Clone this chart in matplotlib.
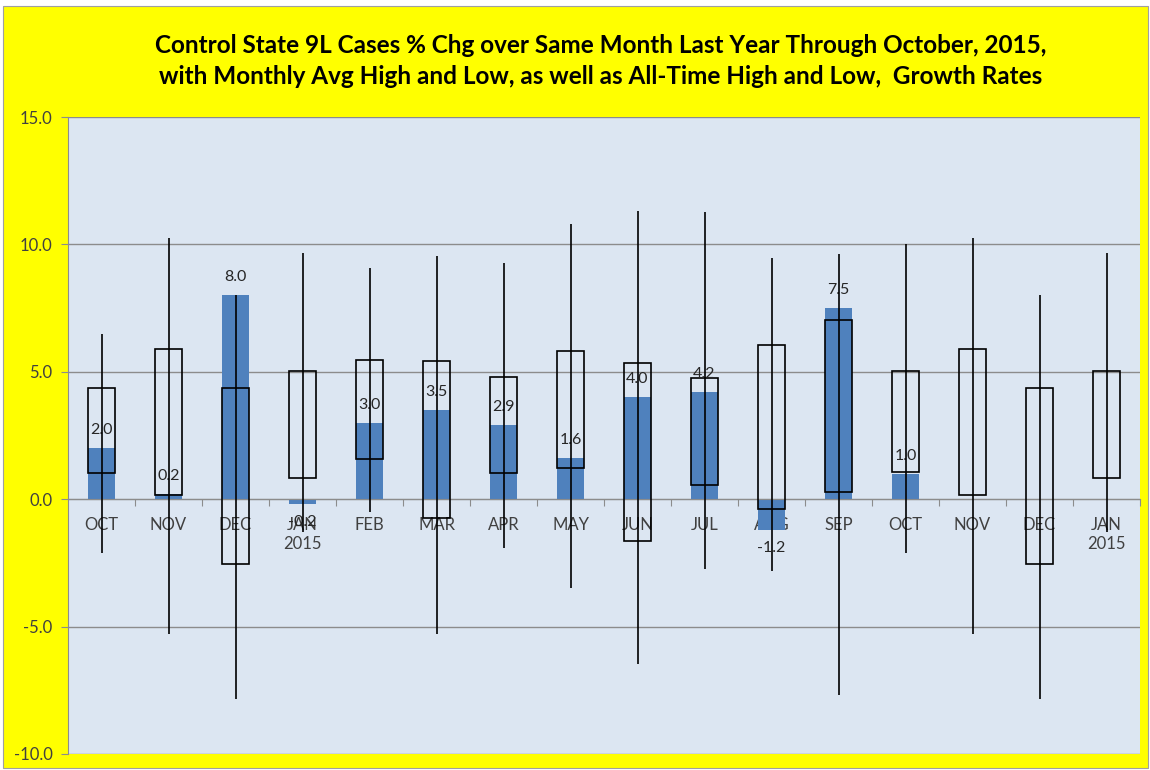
import matplotlib.pyplot as plt
from matplotlib.patches import Rectangle

months = ['OCT', 'NOV', 'DEC', 'JAN\n2015', 'FEB', 'MAR', 'APR', 'MAY',
          'JUN', 'JUL', 'AUG', 'SEP', 'OCT', 'NOV', 'DEC', 'JAN\n2015']
# current growth rate (only through October 2015)
current = [2.0, 0.2, 8.0, -0.2, 3.0, 3.5, 2.9, 1.6, 4.0, 4.2, -1.2, 7.5, 1.0]
# monthly average high / low
avg_high = [4.36, 5.88, 4.36, 5.04, 5.48, 5.43, 4.81, 5.82,
            5.33, 4.74, 6.06, 7.05, 5.04, 5.88, 4.36, 5.04]
avg_low = [1.02, 0.17, -2.53, 0.84, 1.57, -0.73, 1.01, 1.23,
           -1.64, 0.56, -0.40, 0.27, 1.05, 0.17, -2.53, 0.84]
# all-time high / low
all_high = [6.5, 10.26, 8.0, 9.65, 9.09, 9.53, 9.26, 10.79,
            11.33, 11.28, 9.48, 9.61, 10.0, 10.26, 8.0, 9.65]
all_low = [-2.1, -5.3, -7.86, -1.3, -0.51, -5.3, -1.92, -3.49,
           -6.47, -2.73, -2.83, -7.7, -2.1, -5.3, -7.86, -1.3]

plt.rcParams['font.family'] = ['Lato', 'DejaVu Sans']

fig = plt.figure(figsize=(11.5, 7.7), dpi=100)
fig.patch.set_facecolor('white')
fig.patches.append(Rectangle((3 / 1150, 2 / 770), 1145 / 1150, 762 / 770,
                             transform=fig.transFigure, facecolor='#FFFF00',
                             edgecolor='#A0A0A0', linewidth=0.8, zorder=-1))

ax = fig.add_axes([68 / 1150, 1 - 754 / 770, 1072 / 1150, 637 / 770])
ax.set_facecolor('#DCE6F2')

x = list(range(len(months)))
w = 0.41

ax.bar(x[:len(current)], current, width=w, color='#4F81BD', zorder=2)
heights = [h - l for h, l in zip(avg_high, avg_low)]
ax.bar(x, heights, bottom=avg_low, width=w, fill=False, edgecolor='black',
       linewidth=1.2, zorder=3)

for i, v in enumerate(current):
    off = 13 if v >= 0 else -13
    ax.annotate(f'{v:.1f}', (i, v), xytext=(0, off), textcoords='offset points',
                ha='center', va='center', fontsize=11.5, color='#262626', zorder=4)

ax.vlines(x, all_low, all_high, color='black', linewidth=1.2, zorder=5)

ax.set_xlim(-0.5, len(months) - 0.5)
ax.set_ylim(-10, 15)
ax.set_yticks([-10, -5, 0, 5, 10, 15])
ax.set_yticklabels([f'{t:.1f}' for t in [-10, -5, 0, 5, 10, 15]])
ax.yaxis.grid(True, color='#8C8C8C', linewidth=1)
ax.set_axisbelow(True)

ax.set_xticks([i + 0.5 for i in range(len(months))])
ax.set_xticklabels([])
ax.set_xticks(x, minor=True)
ax.set_xticklabels(months, minor=True)
for lbl in ax.get_xticklabels(minor=True):
    lbl.set_linespacing(1.75)
ax.tick_params(axis='x', which='major', length=5, color='#8C8C8C', direction='out')
ax.tick_params(axis='x', which='minor', length=0, pad=13, labelsize=12,
               labelcolor='#404040')
ax.tick_params(axis='y', length=5, color='#8C8C8C', labelsize=12, pad=6,
               labelcolor='#404040')

for s in ['top', 'right']:
    ax.spines[s].set_visible(False)
ax.spines['bottom'].set_position(('data', 0))
ax.spines['bottom'].set_color('#8C8C8C')
ax.spines['left'].set_color('#8C8C8C')

fig.text(601 / 1150, 1 - 61 / 770,
         'Control State 9L Cases % Chg over Same Month Last Year Through October, 2015,\n'
         'with Monthly Avg High and Low, as well as All-Time High and Low,  Growth Rates',
         ha='center', va='center', fontsize=17.5, fontweight='bold',
         linespacing=1.45, color='black')

fig.savefig('out.png', dpi=100)
